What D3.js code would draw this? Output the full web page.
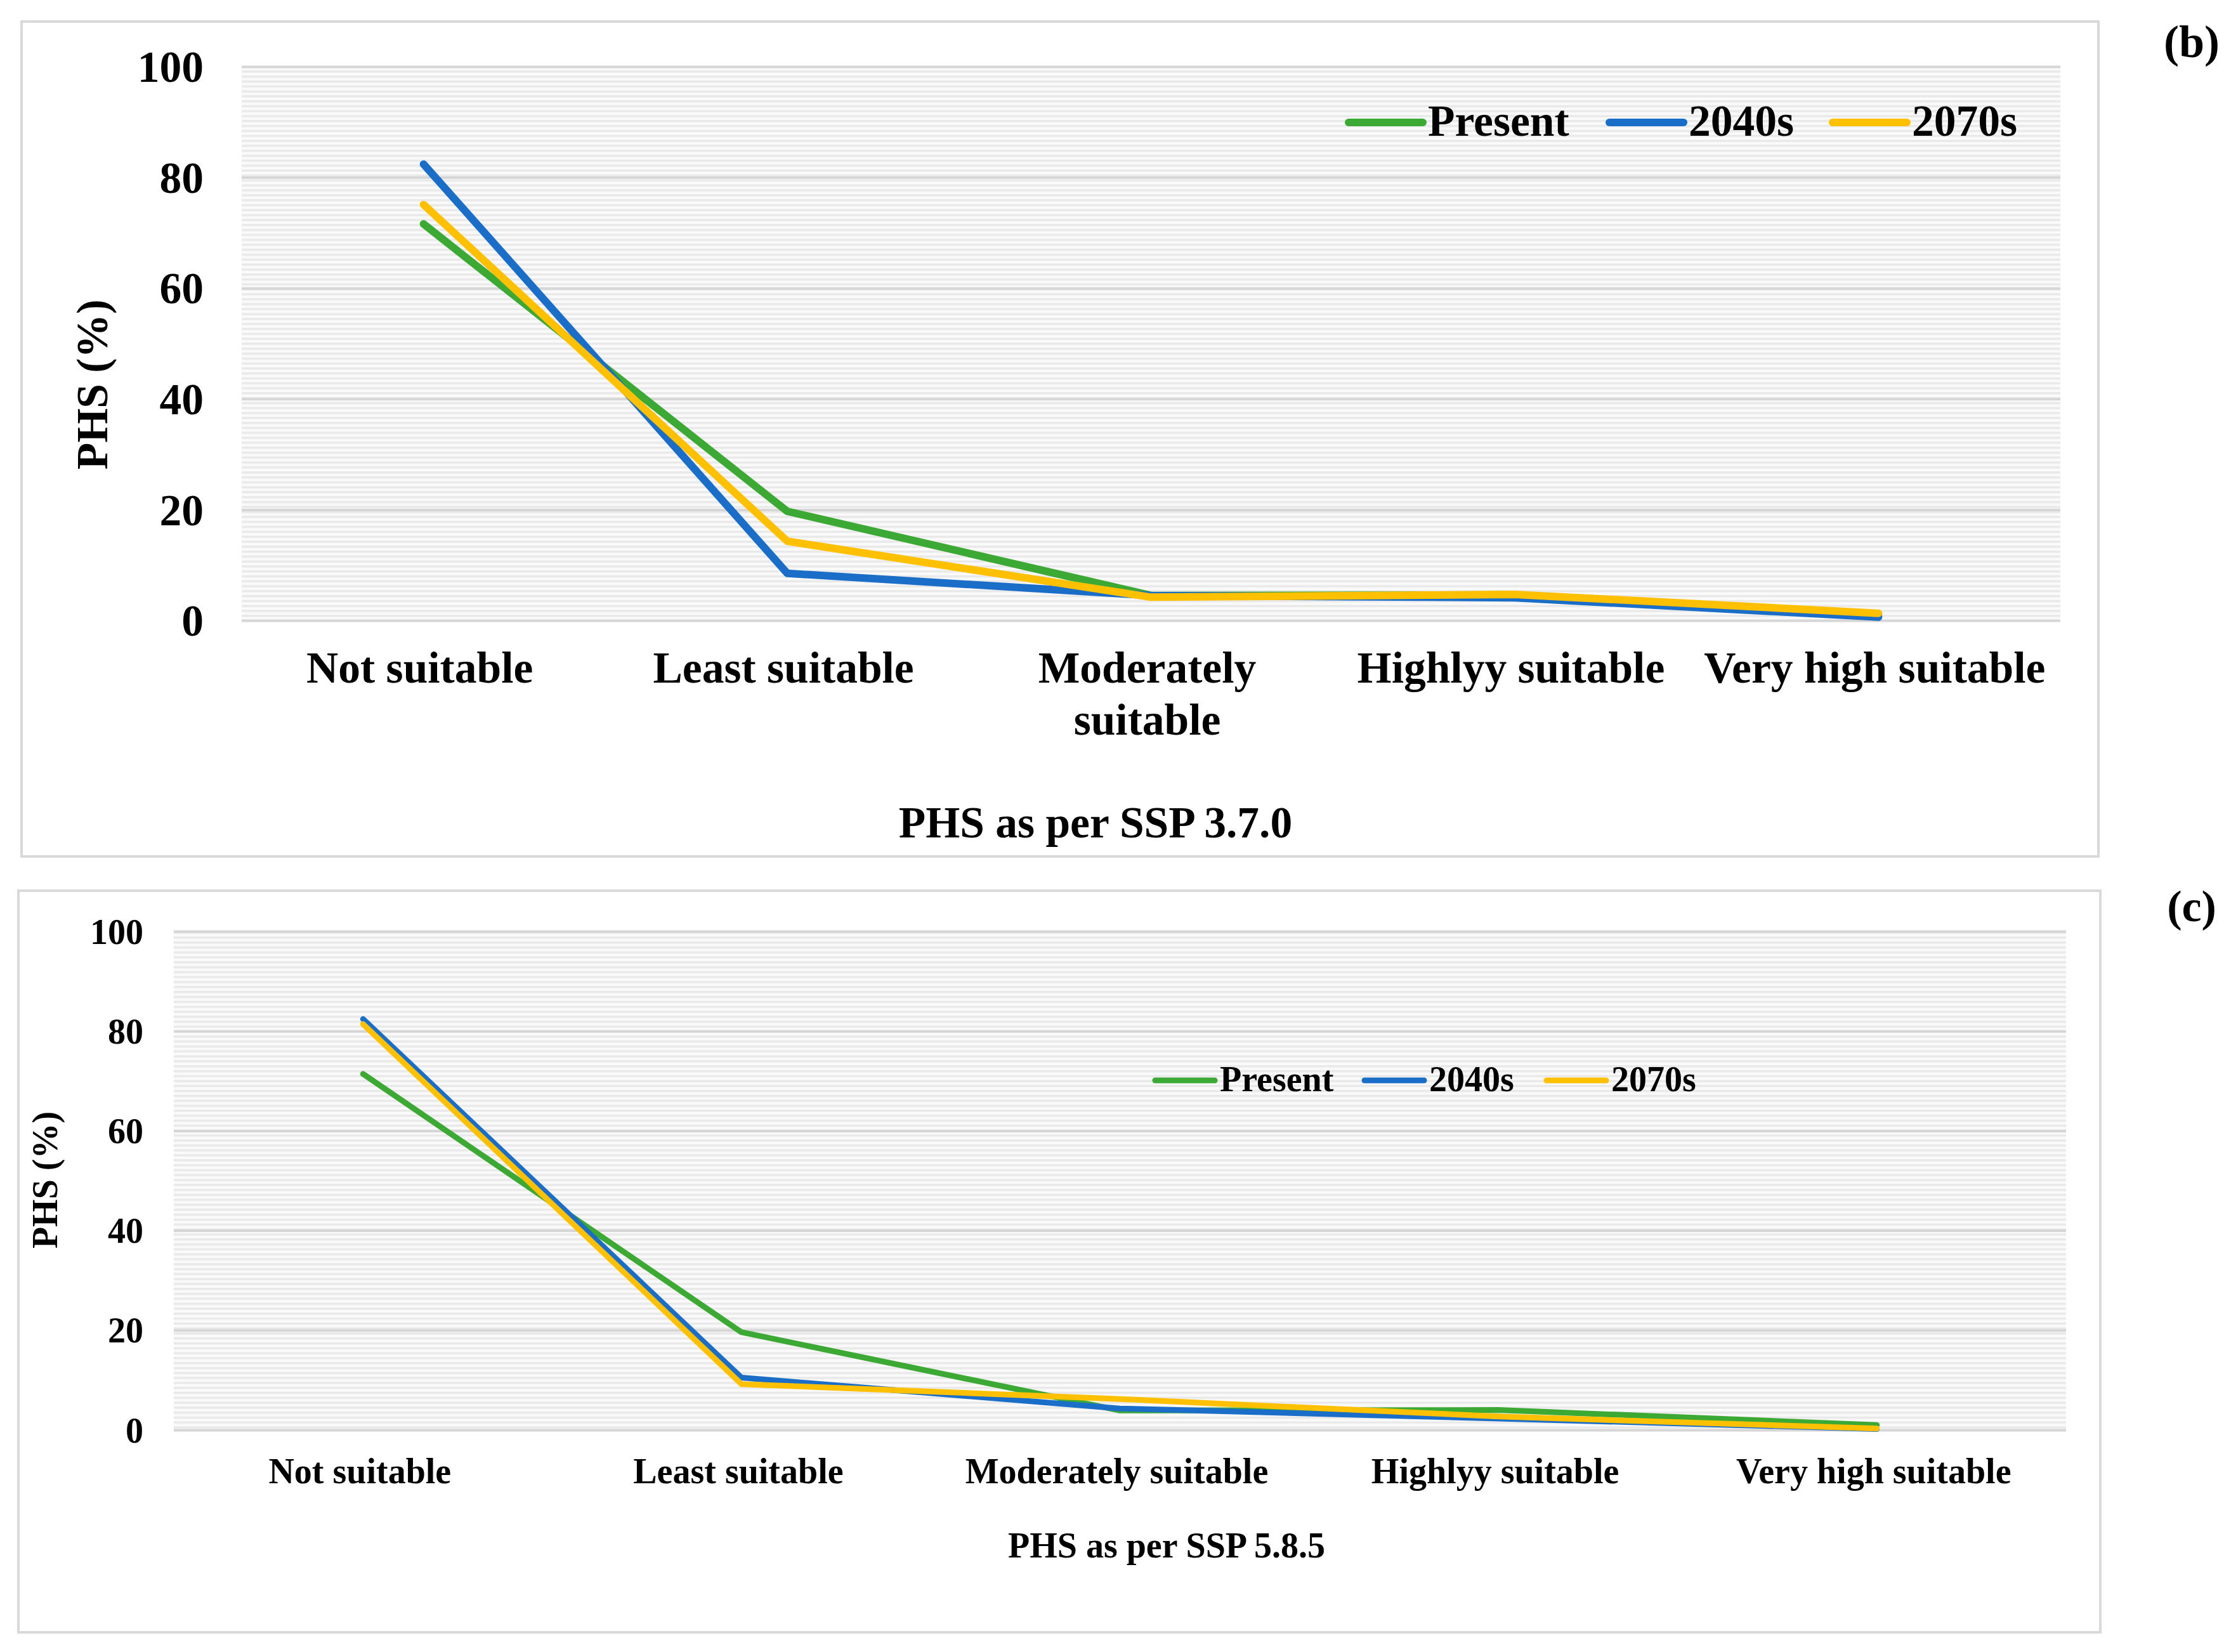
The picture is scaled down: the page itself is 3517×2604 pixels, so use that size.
<!DOCTYPE html>
<html lang="en">
<head>
<meta charset="UTF-8">
<title>PHS as per SSP</title>
<script src="https://d3js.org/d3.v7.min.js"></script>
<style>
    body { margin: 0; background: #fff; }
    text { font-family: "Liberation Serif", "Times New Roman", serif; font-weight: bold; fill: #000; }
</style>
</head>
<body>
<svg id="chart" width="3517" height="2604"></svg>
<script>
// categories shared by both panels
const categories = ["Not suitable", "Least suitable", "Moderately suitable", "Highlyy suitable", "Very high suitable"];
const seriesNames = ["Present", "2040s", "2070s"];
const yTicks = [0, 20, 40, 60, 80, 100];

// panel (b) - SSP 3.7.0
const presentB = [71.6, 19.7, 4.5, 4.6, 1.2];
const y2040B   = [82.4, 8.5, 4.5, 4.1, 0.6];
const y2070B   = [75.1, 14.3, 4.2, 4.7, 1.3];

// panel (c) - SSP 5.8.5
const presentC = [71.4, 19.6, 3.9, 4.0, 1.0];
const y2040C   = [82.4, 10.5, 4.3, 2.3, 0.2];
const y2070C   = [81.4, 9.2, 6.2, 2.7, 0.3];

const colors = ["#3da935", "#1a6ec8", "#ffc000"];

const svg = d3.select("#chart");
svg.append("rect").attr("width", 3517).attr("height", 2604).attr("fill", "#fff");

// horizontal stripe fill like the Excel plot area
const defs = svg.append("defs");
const pat = defs.append("pattern")
    .attr("id", "stripes")
    .attr("patternUnits", "userSpaceOnUse")
    .attr("width", 8).attr("height", 7.8);
pat.append("rect").attr("width", 8).attr("height", 7.8).attr("fill", "#fafafa");
pat.append("rect").attr("y", 2).attr("width", 8).attr("height", 3.4).attr("fill", "#e9e9e9");

function drawPanel(cfg) {
    const g = svg.append("g");

    g.append("rect")
        .attr("x", cfg.box[0]).attr("y", cfg.box[1])
        .attr("width", cfg.box[2]).attr("height", cfg.box[3])
        .attr("fill", "#fff").attr("stroke", "#d9d9d9").attr("stroke-width", 4);

    const x = d3.scaleBand().domain(categories).range([cfg.left, cfg.right]);
    const y = d3.scaleLinear().domain([0, 100]).range([cfg.bottom, cfg.top]);

    g.append("rect")
        .attr("x", cfg.left).attr("y", cfg.top)
        .attr("width", cfg.right - cfg.left).attr("height", cfg.bottom - cfg.top)
        .attr("fill", "url(#stripes)");

    // gridlines
    const grid = g.append("g")
        .attr("transform", `translate(${cfg.left},0)`)
        .call(d3.axisLeft(y).tickValues(yTicks).tickSize(-(cfg.right - cfg.left)).tickFormat(""));
    grid.select(".domain").remove();
    grid.selectAll("line").attr("stroke", "#d6d6d6").attr("stroke-width", 4);

    // y tick labels
    const yAxis = g.append("g")
        .attr("transform", `translate(${cfg.left},0)`)
        .call(d3.axisLeft(y).tickValues(yTicks).tickSize(0).tickPadding(cfg.tickPad));
    yAxis.select(".domain").remove();
    yAxis.selectAll("text")
        .attr("font-family", null).attr("font-size", cfg.font)
        .attr("dy", "0.34em");

    // category labels, wrapped when wider than the band
    const xAxis = g.append("g")
        .attr("transform", `translate(0,${cfg.bottom})`)
        .call(d3.axisBottom(x).tickSize(0).tickPadding(0));
    xAxis.select(".domain").remove();
    xAxis.selectAll("text")
        .attr("font-family", null).attr("font-size", cfg.font)
        .attr("x", cfg.catDx)
        .attr("y", cfg.catDy).attr("dy", 0)
        .each(function (d) {
            const t = d3.select(this);
            if (this.getComputedTextLength() > x.bandwidth() * 0.99) {
                const words = d.split(" ");
                t.text(null);
                t.append("tspan").attr("x", cfg.catDx).attr("y", cfg.catDy).text(words.slice(0, -1).join(" "));
                t.append("tspan").attr("x", cfg.catDx).attr("y", cfg.catDy + cfg.lineH).text(words[words.length - 1]);
            }
        });

    // series lines
    const line = d3.line()
        .x((d, i) => x(categories[i]) + x.bandwidth() / 2)
        .y(d => y(d));
    g.selectAll(".series")
        .data(cfg.series)
        .enter().append("path")
        .attr("class", "series")
        .attr("d", d => line(d))
        .attr("fill", "none")
        .attr("stroke", (d, i) => colors[i])
        .attr("stroke-width", cfg.lineW)
        .attr("stroke-linejoin", "round")
        .attr("stroke-linecap", "round");

    // axis titles
    g.append("text")
        .attr("x", cfg.xTitle[0]).attr("y", cfg.xTitle[1])
        .attr("text-anchor", "middle").attr("font-size", cfg.font)
        .text(cfg.title);
    g.append("text")
        .attr("transform", `translate(${cfg.yTitle[0]},${cfg.yTitle[1]}) rotate(-90)`)
        .attr("text-anchor", "middle").attr("font-size", cfg.font)
        .text("PHS (%)");

    // legend
    const leg = g.selectAll(".leg")
        .data(seriesNames)
        .enter().append("g")
        .attr("transform", (d, i) => `translate(${cfg.legX[i]},${cfg.legY})`);
    leg.append("line")
        .attr("x1", 0).attr("x2", cfg.legLen)
        .attr("stroke", (d, i) => colors[i])
        .attr("stroke-width", cfg.lineW)
        .attr("stroke-linecap", "round");
    leg.append("text")
        .attr("x", cfg.legLen + 8).attr("y", cfg.legDy)
        .attr("font-size", cfg.font)
        .text(d => d);

    // panel letter
    svg.append("text")
        .attr("x", cfg.tag[0]).attr("y", cfg.tag[1])
        .attr("text-anchor", "middle").attr("font-size", cfg.tagFont)
        .text(cfg.tagText);
}

drawPanel({
    box: [34, 34, 3274, 1316],
    left: 381, right: 3248, top: 105, bottom: 978,
    font: 69.5, tickPad: 60, catDx: -6, catDy: 98, lineH: 82, lineW: 12,
    series: [presentB, y2040B, y2070B],
    title: "PHS as per SSP 3.7.0", xTitle: [1727, 1320], yTitle: [169, 606],
    legX: [2126, 2537, 2889], legY: 193, legLen: 117, legDy: 21,
    tag: [3455, 90], tagFont: 72, tagText: "(b)"
});

drawPanel({
    box: [29, 1404, 3282, 1169],
    left: 274, right: 3257, top: 1468, bottom: 2254,
    font: 56, tickPad: 48, catDx: -5, catDy: 84, lineH: 66, lineW: 9,
    series: [presentC, y2040C, y2070C],
    title: "PHS as per SSP 5.8.5", xTitle: [1839, 2455], yTitle: [90, 1860],
    legX: [1821, 2151, 2438], legY: 1703, legLen: 94, legDy: 17,
    tag: [3455, 1452], tagFont: 70, tagText: "(c)"
});
</script>
</body>
</html>
